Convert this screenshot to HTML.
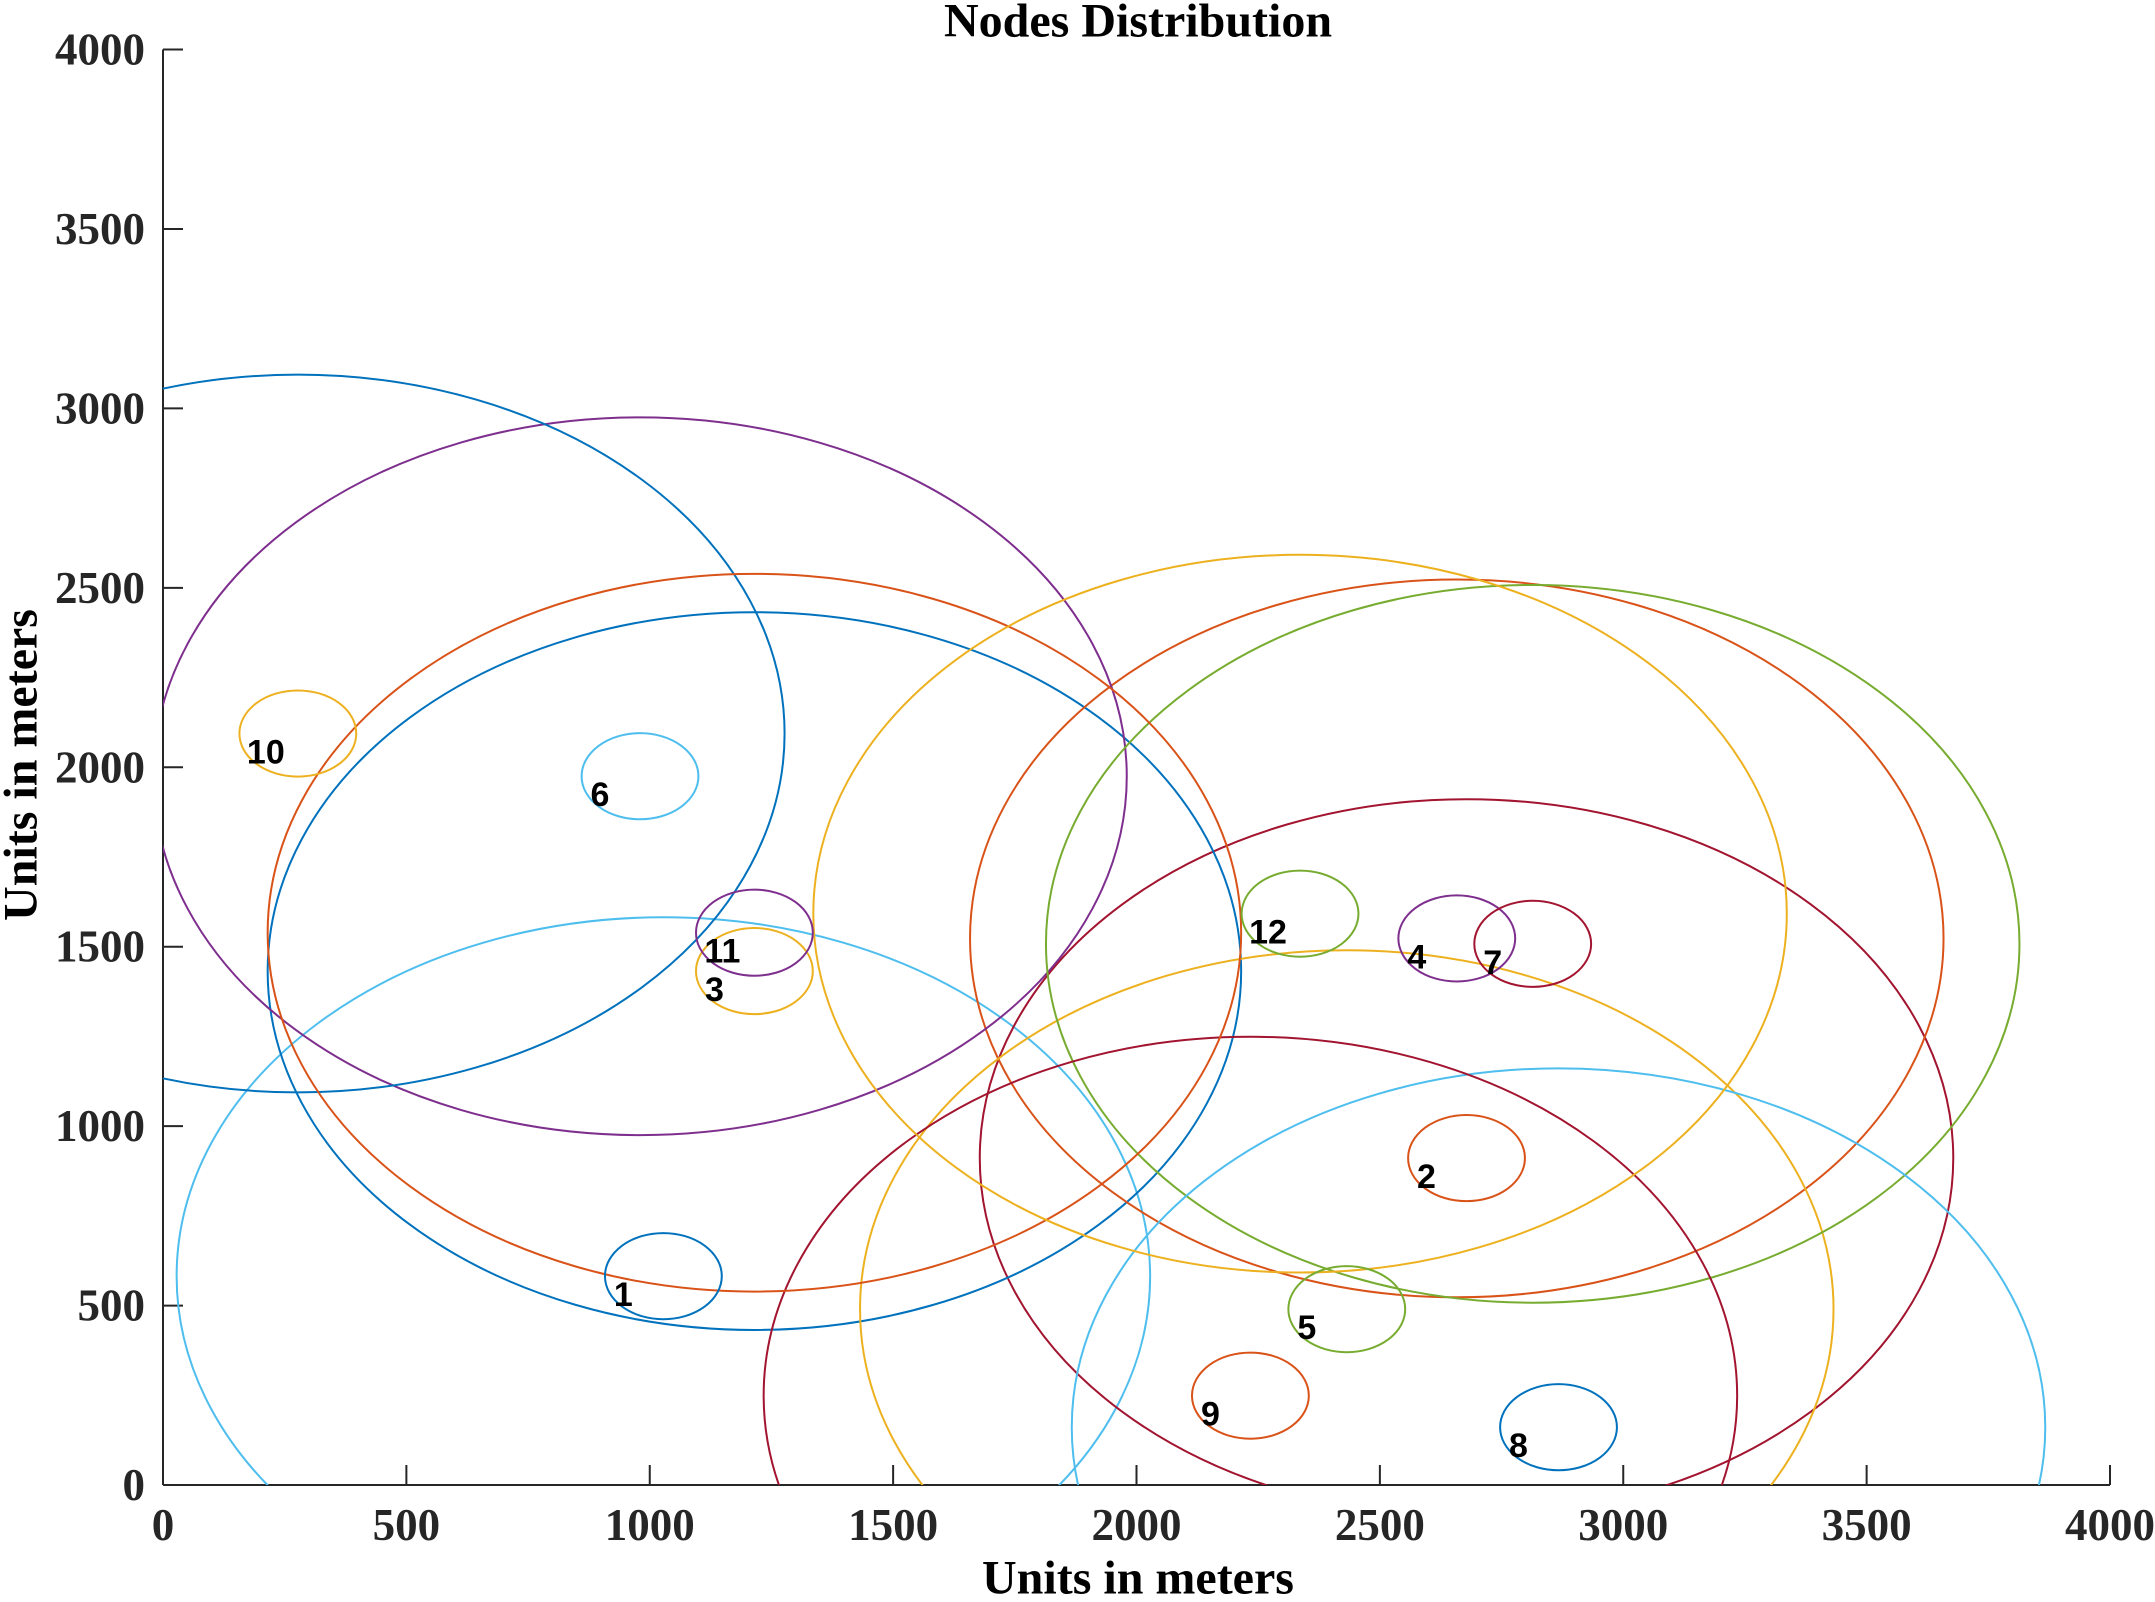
<!DOCTYPE html>
<html><head><meta charset="utf-8"><style>
html,body{margin:0;padding:0;background:#fff;overflow:hidden;width:2155px;height:1602px;}
svg{display:block;}
.tick{font-family:"Liberation Serif",serif;font-weight:bold;font-size:45px;fill:#262626;}
.lbl{font-family:"Liberation Serif",serif;font-weight:bold;font-size:48px;fill:#000;}
.node{font-family:"Liberation Sans",sans-serif;font-weight:bold;font-size:34px;fill:#000;}
</style></head><body>
<svg id="chart" width="2155" height="1602" viewBox="0 0 2155 1602" xmlns="http://www.w3.org/2000/svg">
<defs><clipPath id="plotclip"><rect x="163" y="49.5" width="1947" height="1435.5"/></clipPath></defs>
<text class="lbl" x="1138" y="21" text-anchor="middle" dominant-baseline="central">Nodes Distribution</text>
<text class="lbl" x="1138" y="1578" text-anchor="middle" dominant-baseline="central">Units in meters</text>
<text class="lbl" x="21" y="765" text-anchor="middle" dominant-baseline="central" transform="rotate(-90 21 765)">Units in meters</text>
<g id="axes"></g>
<g id="ranges" clip-path="url(#plotclip)"></g>
<g id="nodes" clip-path="url(#plotclip)"></g>
<g id="labels"></g>
</svg>
<script>
const nodeIds = [1,2,3,4,5,6,7,8,9,10,11,12];
const nodeX = [1028,2678,1215,2658,2432,980,2814,2867,2234,277,1215,2336];
const nodeY = [582,911,1432,1523,490,1975,1508,161,249,2094,1539,1592];
const nodeRadius = [120,120,120,120,120,120,120,120,120,120,120,120];
const rangeRadius = [1000,1000,1000,1000,1000,1000,1000,1000,1000,1000,1000,1000];
const xTicks = [0,500,1000,1500,2000,2500,3000,3500,4000];
const yTicks = [0,500,1000,1500,2000,2500,3000,3500,4000];

const palette = ['#0072BD','#D95319','#EDB120','#7E2F8E','#77AC30','#4DBEEE','#A2142F'];
const L=163,R=2110,T=49.5,B=1485, XMAX=4000, YMAX=4000;
const sx = v => L + v/XMAX*(R-L);
const sy = v => B - v/YMAX*(B-T);
const NS='http://www.w3.org/2000/svg';
function mk(tag, attrs, parent){const e=document.createElementNS(NS,tag);for(const k in attrs)e.setAttribute(k,attrs[k]);parent.appendChild(e);return e;}

const axes=document.getElementById('axes');
const xa=mk('line',{x1:L,y1:B,x2:R,y2:B,stroke:'#262626','stroke-width':2},axes);


const ya=mk('line',{x1:L,y1:T,x2:L,y2:B,stroke:'#262626','stroke-width':2},axes);


xTicks.forEach(v=>{
  const t=mk('line',{x1:sx(v),y1:B,x2:sx(v),y2:B-20,stroke:'#262626','stroke-width':2},axes);
  
  
  const tx=mk('text',{x:sx(v),y:1525,'text-anchor':'middle','dominant-baseline':'central',class:'tick'},axes);
  tx.textContent=v;
  
  
});
yTicks.forEach(v=>{
  const t=mk('line',{x1:L,y1:sy(v),x2:L+20,y2:sy(v),stroke:'#262626','stroke-width':2},axes);
  
  
  const tx=mk('text',{x:145,y:sy(v),'text-anchor':'end','dominant-baseline':'central',class:'tick'},axes);
  tx.textContent=v;
  
  
});

const ranges=document.getElementById('ranges'), nodes=document.getElementById('nodes'), labels=document.getElementById('labels');
nodeIds.forEach((id,i)=>{
  const pxPerX=(R-L)/XMAX, pxPerY=(B-T)/YMAX;
  const rc=mk('ellipse',{cx:sx(nodeX[i]),cy:sy(nodeY[i]),rx:rangeRadius[i]*pxPerX,ry:rangeRadius[i]*pxPerY,fill:'none',stroke:palette[(i+5)%7],'stroke-width':2},ranges);
  
  
  const nc=mk('ellipse',{cx:sx(nodeX[i]),cy:sy(nodeY[i]),rx:nodeRadius[i]*pxPerX,ry:nodeRadius[i]*pxPerY,fill:'none',stroke:palette[i%7],'stroke-width':2},nodes);
  
  
  const lb=mk('text',{x:sx(nodeX[i])-40+(id>=10?8:0),y:sy(nodeY[i])+19,'text-anchor':'middle','dominant-baseline':'central',class:'node'},labels);
  lb.textContent=id;
  
  
});
</script>
</body></html>
